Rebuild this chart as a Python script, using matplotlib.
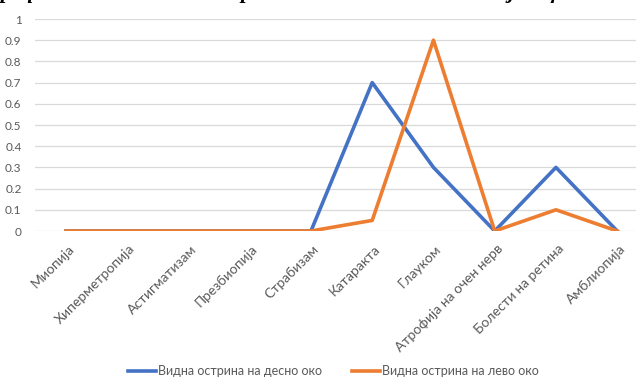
import matplotlib
matplotlib.use("Agg")
import matplotlib.pyplot as plt
from matplotlib.transforms import ScaledTranslation

categories = ["Миопија", "Хиперметропија", "Астигматизам", "Презбиопија", "Страбизам",
              "Катаракта", "Глауком", "Атрофија на очен нерв", "Болести на ретина", "Амблиопија"]
right_eye = [0, 0, 0, 0, 0, 0.7, 0.3, 0, 0.3, 0]
left_eye = [0, 0, 0, 0, 0, 0.05, 0.9, 0, 0.1, 0]
series_names = ["Видна острина на десно око", "Видна острина на лево око"]
yticks = [0, 0.1, 0.2, 0.3, 0.4, 0.5, 0.6, 0.7, 0.8, 0.9, 1]
ytick_labels = ["0", "0.1", "0.2", "0.3", "0.4", "0.5", "0.6", "0.7", "0.8", "0.9", "1"]
title = "Графикон 10 – Видна острина на десно и лево око кај пациентите со очни болести"

W, H = 636, 377
plt.rcParams['font.family'] = ['Lato', 'DejaVu Sans']
fig = plt.figure(figsize=(W / 100, H / 100), dpi=100)

left_px, right_px = 35.4, 647.8
bot_px, top_px = 231, 19
ax = fig.add_axes([left_px / W, (H - bot_px) / H, (right_px - left_px) / W, (bot_px - top_px) / H])

x = list(range(len(categories)))
ax.plot(x, right_eye, color="#4472C4", lw=2.6, solid_joinstyle='round', label=series_names[0], zorder=3)
ax.plot(x, left_eye, color="#ED7D31", lw=2.6, solid_joinstyle='round', label=series_names[1], zorder=3)

ax.set_xlim(-0.5, len(categories) - 0.5)
ax.set_ylim(0, 1)
ax.set_yticks(yticks)
ax.set_yticklabels(ytick_labels, fontsize=8.5, color="#595959")
ax.yaxis.grid(True, color="#D9D9D9", lw=0.9)
ax.set_axisbelow(True)
for s in ax.spines.values():
    s.set_visible(False)
ax.tick_params(axis='y', length=0, pad=10)
ax.tick_params(axis='x', length=0, pad=0)
ax.set_xticks(x)
ax.set_xticklabels(categories, rotation=45, ha='right', va='center', rotation_mode='anchor',
                   fontsize=10, color="#595959")
off = ScaledTranslation(6 / 100, -16 / 100, fig.dpi_scale_trans)
for lbl in ax.get_xticklabels():
    lbl.set_transform(lbl.get_transform() + off)

leg = fig.legend(loc='center', bbox_to_anchor=(333 / W, (H - 371) / H), ncol=2, frameon=False,
                 fontsize=9, handlelength=2.3, handletextpad=0.1, columnspacing=2.4,
                 labelcolor="#595959")

fig.text(-12 / W, (H + 2) / H, title, fontsize=16, fontweight='bold', fontstyle='italic',
         family=['Liberation Serif'], ha='left', va='baseline', color='black')

fig.savefig("out.png", dpi=100)
